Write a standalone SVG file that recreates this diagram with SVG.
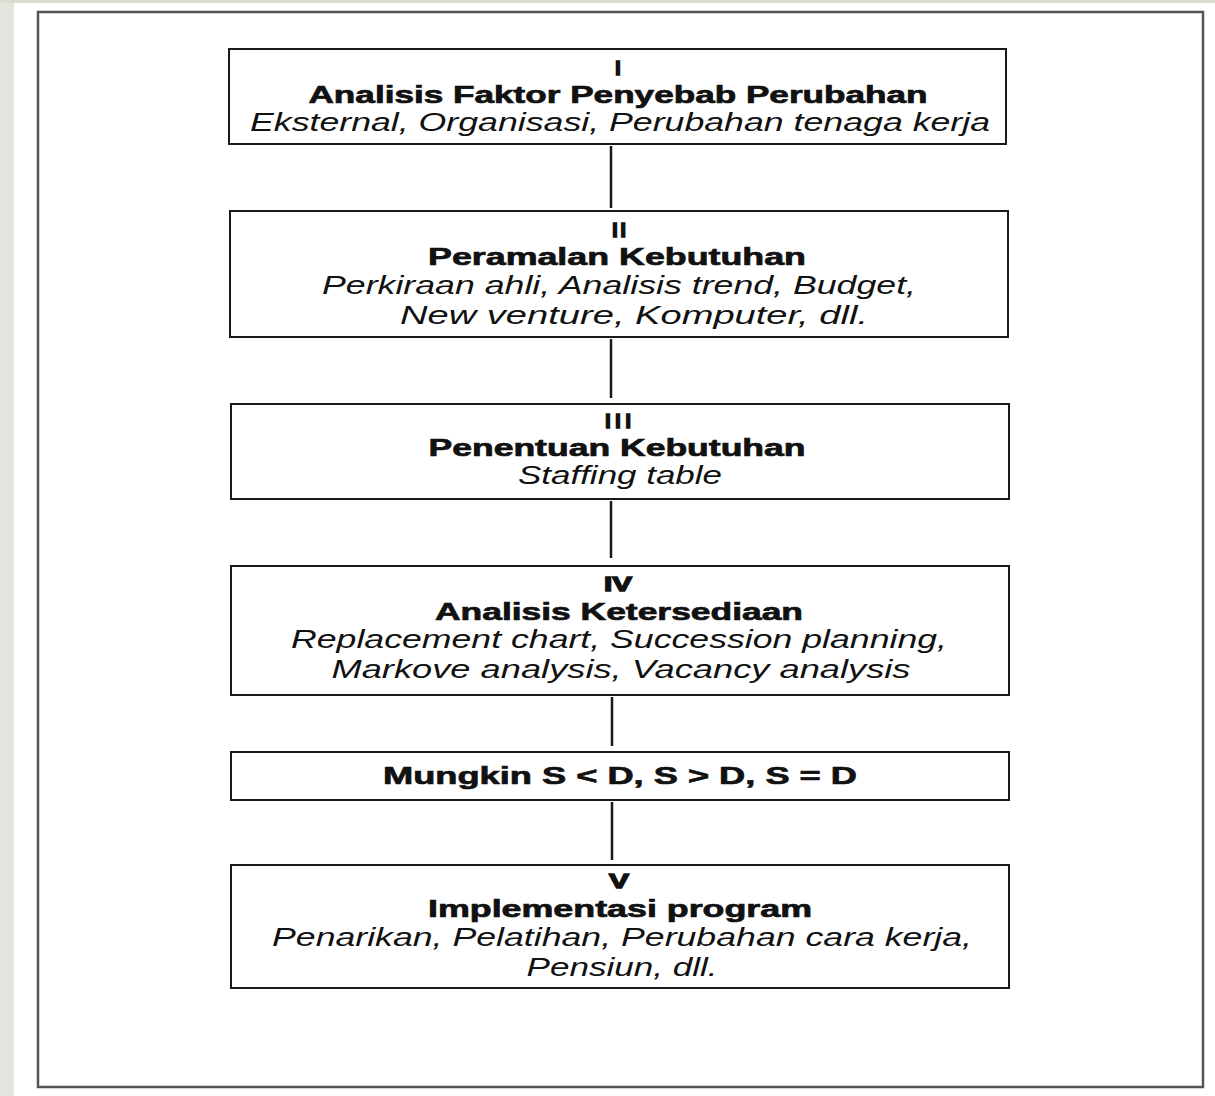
<svg xmlns="http://www.w3.org/2000/svg" width="1215" height="1096" viewBox="0 0 1215 1096">
<style>
.box{fill:#ffffff;stroke:#1a1a1a;stroke-width:2}
.conn line{stroke:#1a1a1a;stroke-width:2.5}
.num{font-family:"Liberation Sans",Arial,sans-serif;font-weight:bold;font-size:21px;fill:#111;stroke:#111;stroke-width:1.4;text-anchor:middle}
.ttl{font-family:"Liberation Sans",Arial,sans-serif;font-weight:bold;font-size:24px;fill:#111;stroke:#111;stroke-width:0.7;text-anchor:middle}
.it{font-family:"Liberation Sans",Arial,sans-serif;font-style:italic;font-size:25px;fill:#111;text-anchor:middle}
</style>
<rect x="0" y="0" width="1215" height="1096" fill="#ffffff"/>
<rect x="0" y="0" width="14" height="1096" fill="#e4e4dc"/>
<rect x="0" y="0" width="1215" height="3" fill="#dcdcd2"/>
<rect id="frame" x="38" y="12" width="1165" height="1075" fill="none" stroke="#555" stroke-width="2.5"/>
<g class="conn" id="connectors">
<line x1="611" y1="146" x2="611" y2="208"/>
<line x1="611" y1="339" x2="611" y2="398"/>
<line x1="611" y1="501" x2="611" y2="558"/>
<line x1="612" y1="697" x2="612" y2="746"/>
<line x1="612" y1="802" x2="612" y2="860"/>
</g>
<g id="n1">
<rect class="box" x="229" y="49" width="777" height="95"/>
<text class="num" x="618" y="75">I</text>
<text class="ttl" x="618" y="103" textLength="619" lengthAdjust="spacingAndGlyphs">Analisis Faktor Penyebab Perubahan</text>
<text class="it" x="620" y="131" textLength="740" lengthAdjust="spacingAndGlyphs">Eksternal, Organisasi, Perubahan tenaga kerja</text>
</g>
<g id="n2">
<rect class="box" x="230" y="211" width="778" height="126"/>
<text class="num" x="619" y="237" textLength="14" lengthAdjust="spacing">II</text>
<text class="ttl" x="617" y="265" textLength="378" lengthAdjust="spacingAndGlyphs">Peramalan Kebutuhan</text>
<text class="it" x="619" y="294" textLength="594" lengthAdjust="spacingAndGlyphs">Perkiraan ahli, Analisis trend, Budget,</text>
<text class="it" x="634" y="324" textLength="468" lengthAdjust="spacingAndGlyphs">New venture, Komputer, dll.</text>
</g>
<g id="n3">
<rect class="box" x="231" y="404" width="778" height="95"/>
<text class="num" x="618" y="428" textLength="26" lengthAdjust="spacing">III</text>
<text class="ttl" x="617" y="456" textLength="377" lengthAdjust="spacingAndGlyphs">Penentuan Kebutuhan</text>
<text class="it" x="620" y="484" textLength="204" lengthAdjust="spacingAndGlyphs">Staffing table</text>
</g>
<g id="n4">
<rect class="box" x="231" y="566" width="778" height="129"/>
<text class="num" x="618" y="591" textLength="28" lengthAdjust="spacingAndGlyphs">IV</text>
<text class="ttl" x="619" y="620" textLength="368" lengthAdjust="spacingAndGlyphs">Analisis Ketersediaan</text>
<text class="it" x="619" y="648" textLength="656" lengthAdjust="spacingAndGlyphs">Replacement chart, Succession planning,</text>
<text class="it" x="621" y="678" textLength="579" lengthAdjust="spacingAndGlyphs">Markove analysis, Vacancy analysis</text>
</g>
<g id="n5">
<rect class="box" x="231" y="752" width="778" height="48"/>
<text class="ttl" x="620" y="784" textLength="474" lengthAdjust="spacingAndGlyphs">Mungkin S &lt; D, S &gt; D, S = D</text>
</g>
<g id="n6">
<rect class="box" x="231" y="865" width="778" height="123"/>
<text class="num" x="619" y="888" textLength="20" lengthAdjust="spacingAndGlyphs">V</text>
<text class="ttl" x="620" y="917" textLength="384" lengthAdjust="spacingAndGlyphs">Implementasi program</text>
<text class="it" x="622" y="946" textLength="700" lengthAdjust="spacingAndGlyphs">Penarikan, Pelatihan, Perubahan cara kerja,</text>
<text class="it" x="622" y="976" textLength="191" lengthAdjust="spacingAndGlyphs">Pensiun, dll.</text>
</g>
</svg>
